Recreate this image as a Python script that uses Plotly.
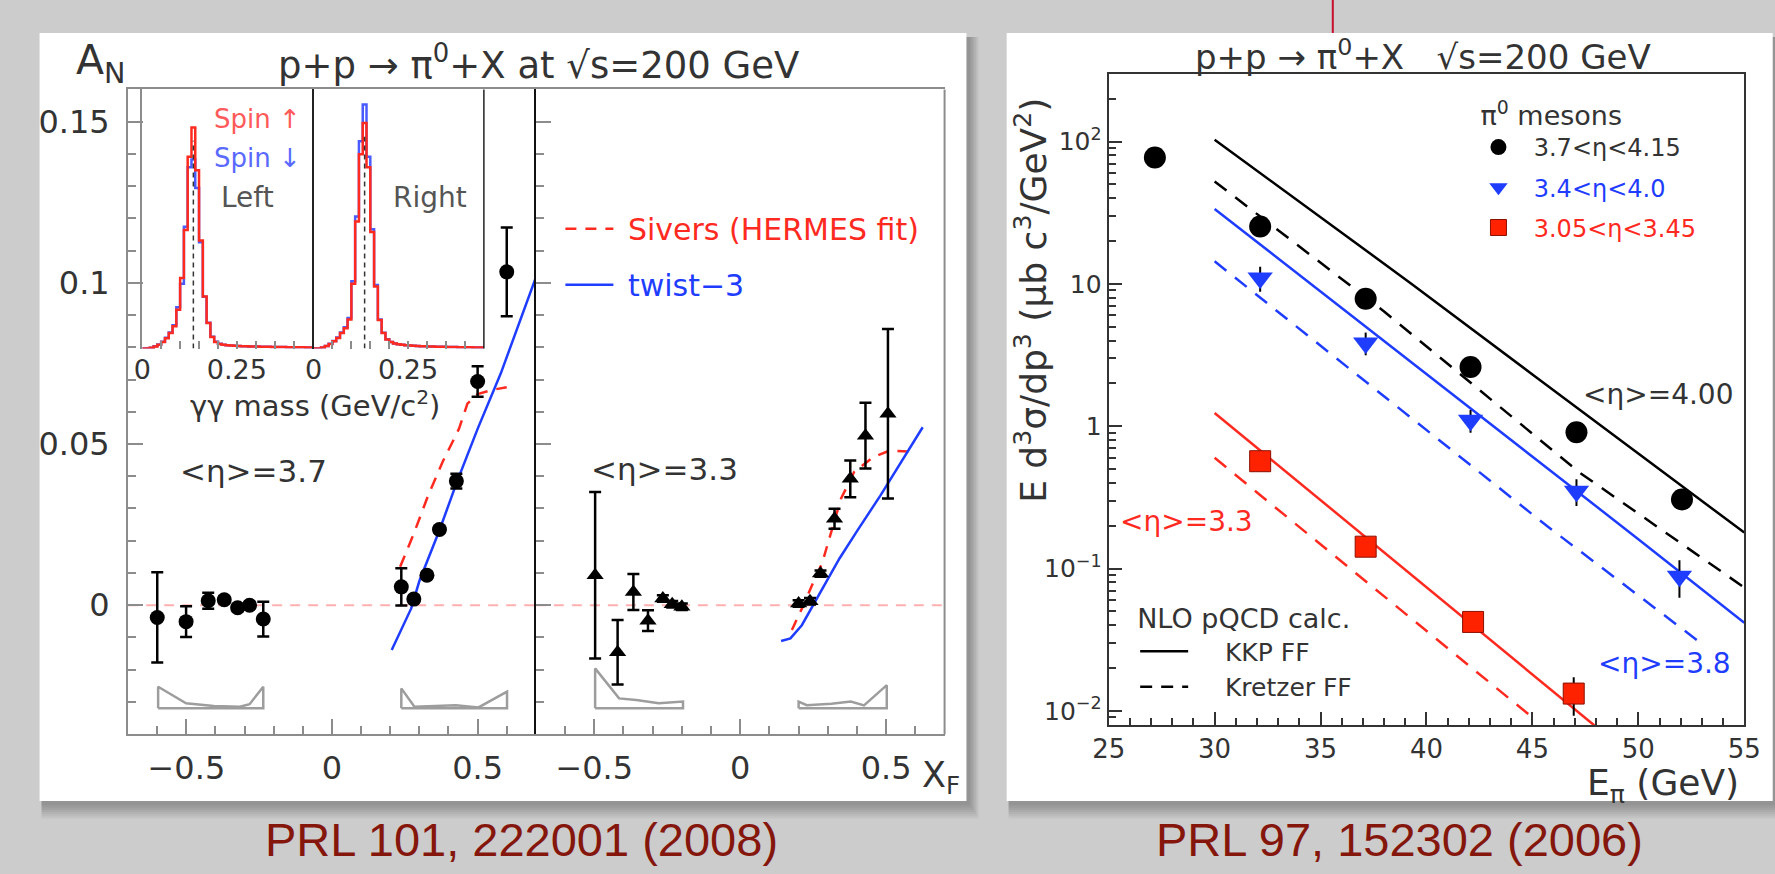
import plotly.graph_objects as go

W, H = 1775, 874
FONT = "DejaVu Sans"
TXT = "#333333"
RED = "#ff2a1f"
BLUE = "#1f3dff"
FRAME = "#8c8c8c"
CAPTION = "#85160c"
NB = "\u00a0"

# ---------------- left figure: A_N vs x_F ----------------
# <eta> = 3.7 (circles)
an37_neg_xf = [-0.600, -0.501, -0.425, -0.370, -0.324, -0.283, -0.236]
an37_neg_an = [-0.0038, -0.0051, 0.0014, 0.0017, -0.0008, 0.0000, -0.0043]
an37_neg_err = [0.0140, 0.0048, 0.0025, 0.0010, 0.0010, 0.0010, 0.0054]
an37_pos_xf = [0.238, 0.281, 0.326, 0.369, 0.427, 0.500, 0.600]
an37_pos_an = [0.0057, 0.0019, 0.0093, 0.0235, 0.0385, 0.0694, 0.1034]
an37_pos_err = [0.0058, 0.0010, 0.0010, 0.0010, 0.0023, 0.0047, 0.0138]
# <eta> = 3.3 (triangles)
an33_neg_xf = [-0.497, -0.420, -0.366, -0.316, -0.265, -0.233, -0.200]
an33_neg_an = [0.0093, -0.0146, 0.0041, -0.0048, 0.0021, 0.0003, -0.0005]
an33_neg_err = [0.0258, 0.0100, 0.0056, 0.0032, 0.0010, 0.0010, 0.0010]
an33_pos_xf = [0.200, 0.239, 0.275, 0.323, 0.377, 0.429, 0.506]
an33_pos_an = [0.0005, 0.0012, 0.0098, 0.0268, 0.0392, 0.0526, 0.0594]
an33_pos_err = [0.0010, 0.0010, 0.0010, 0.0031, 0.0057, 0.0102, 0.0263]

# theory curves
sivers37_xf = [0.234, 0.28, 0.33, 0.38, 0.436, 0.465, 0.50, 0.55, 0.60]
sivers37_an = [0.0119, 0.022, 0.034, 0.0445, 0.0547, 0.0625, 0.0655, 0.0668, 0.0676]
twist37_xf = [0.205, 0.24, 0.272, 0.30, 0.33, 0.37, 0.43, 0.50, 0.58, 0.70]
twist37_an = [-0.0139, -0.007, -0.001, 0.0075, 0.0145, 0.0235, 0.0385, 0.0547, 0.072, 0.1017]
sivers33_xf = [0.177, 0.2165, 0.256, 0.28, 0.345, 0.39, 0.457, 0.513, 0.603]
sivers33_an = [-0.0077, 0.0, 0.0083, 0.0129, 0.033, 0.0413, 0.046, 0.048, 0.0475]
twist33_xf = [0.140, 0.172, 0.211, 0.256, 0.289, 0.34, 0.40, 0.48, 0.625]
twist33_an = [-0.0111, -0.0103, -0.0062, 0.0011, 0.0062, 0.0145, 0.023, 0.034, 0.0552]

# systematic-uncertainty bands (top edge), drawn above a common baseline
BAND_BASE = -0.032
band37_neg_xf = [-0.597, -0.501, -0.406, -0.316, -0.283, -0.236]
band37_neg_an = [-0.0253, -0.0304, -0.0313, -0.0315, -0.0307, -0.0253]
band37_pos_xf = [0.238, 0.283, 0.425, 0.503, 0.601]
band37_pos_an = [-0.0258, -0.0315, -0.0310, -0.0317, -0.0268]
band33_neg_xf = [-0.497, -0.415, -0.356, -0.279, -0.196]
band33_neg_an = [-0.0196, -0.0289, -0.0294, -0.0304, -0.0299]
band33_pos_xf = [0.200, 0.228, 0.312, 0.379, 0.424, 0.502]
band33_pos_an = [-0.0299, -0.0310, -0.0306, -0.0299, -0.0311, -0.0248]

# inset: gamma-gamma invariant mass histograms (bins of 0.01 GeV, relative counts)
MASS_BIN = 0.01
PI0_MASS = 0.135
hist_left_up = [0, 0, 0.003, 0.008, 0.015, 0.025, 0.040, 0.060, 0.086, 0.150,
                0.272, 0.458, 0.740, 0.853, 0.688, 0.417, 0.201, 0.099, 0.045, 0.025,
                0.018, 0.015, 0.013, 0.012, 0.011, 0.010, 0.009, 0.009, 0.008, 0.008,
                0.008, 0.007, 0.007, 0.007, 0.006, 0.006, 0.006, 0.006, 0.005, 0.005,
                0.005, 0.005, 0.005, 0.004, 0.004]
hist_left_down = [0, 0, 0.003, 0.009, 0.016, 0.026, 0.042, 0.062, 0.090, 0.160,
                  0.250, 0.470, 0.700, 0.730, 0.620, 0.410, 0.200, 0.100, 0.046, 0.026,
                  0.019, 0.015, 0.013, 0.012, 0.011, 0.010, 0.009, 0.009, 0.008, 0.008,
                  0.008, 0.007, 0.007, 0.007, 0.006, 0.006, 0.006, 0.006, 0.005, 0.005,
                  0.005, 0.005, 0.005, 0.004, 0.004]
hist_right_up = [0, 0, 0.004, 0.010, 0.018, 0.028, 0.041, 0.060, 0.079, 0.112,
                 0.250, 0.490, 0.750, 0.870, 0.700, 0.450, 0.240, 0.110, 0.060, 0.035,
                 0.025, 0.020, 0.017, 0.015, 0.013, 0.012, 0.011, 0.010, 0.009, 0.009,
                 0.008, 0.008, 0.007, 0.007, 0.007, 0.006, 0.006, 0.006, 0.005, 0.005,
                 0.005, 0.005, 0.004, 0.004, 0.004]
hist_right_down = [0, 0, 0.004, 0.010, 0.019, 0.029, 0.043, 0.062, 0.082, 0.118,
                   0.260, 0.510, 0.800, 0.942, 0.740, 0.460, 0.245, 0.112, 0.061, 0.036,
                   0.025, 0.020, 0.017, 0.015, 0.013, 0.012, 0.011, 0.010, 0.009, 0.009,
                   0.008, 0.008, 0.007, 0.007, 0.007, 0.006, 0.006, 0.006, 0.005, 0.005,
                   0.005, 0.005, 0.004, 0.004, 0.004]

# ---------------- right figure: cross sections ----------------
e_eta40 = [27.18, 32.15, 37.13, 42.08, 47.08, 52.06]
xs_eta40 = [77.3, 25.3, 7.87, 2.61, 0.908, 0.306]
e_eta38 = [32.15, 37.13, 42.08, 47.08, 51.94]
xs_eta38 = [11.0, 3.85, 1.10, 0.35, 0.0885]
xs_eta38_err = [2.2, 0.7, 0.2, 0.075, 0.026]
e_eta33 = [32.15, 37.13, 42.2, 46.95]
xs_eta33 = [0.568, 0.1425, 0.0422, 0.01324]
xs_eta33_err = [0.03, 0.008, 0.002, 0.004]

kkp40_e = [30.0, 35.0, 39.3, 45.0, 50.0, 55.0]
kkp40_xs = [103.0, 29.4, 10.0, 2.31, 0.64, 0.179]
kre40_e = [30.0, 38.0, 47.24, 54.9]
kre40_xs = [52.4, 6.4, 0.471, 0.0754]
kkp38_e = [30.0, 40.0, 45.69, 50.0, 55.0]
kkp38_xs = [33.6, 2.33, 0.51, 0.161, 0.0417]
kre38_e = [30.0, 40.0, 45.69, 52.95]
kre38_xs = [14.4, 0.94, 0.199, 0.030]
kkp33_e = [30.0, 40.0, 47.93]
kkp33_xs = [1.24, 0.0743, 0.0079]
kre33_e = [30.0, 37.5, 45.0]
kre33_xs = [0.60, 0.073, 0.009]

an_ticks = [0, 0.05, 0.1, 0.15]
an_ticktext = ["0", "0.05", "0.1", "0.15"]
xf_ticks = [-0.5, 0, 0.5]
xf_ticktext = ["−0.5", "0", "0.5"]
mass_ticks = [0, 0.25]
mass_ticktext = ["0", "0.25"]
e_ticks = [25, 30, 35, 40, 45, 50, 55]
xs_ticks = [0.01, 0.1, 1, 10, 100]
xs_ticktext = ["10<sup>−2</sup>", "10<sup>−1</sup>", "1", "10", "10<sup>2</sup>"]


def px(v):
    return v / W


def py(v):
    return 1 - v / H


fig = go.Figure()


def add_points(xf, an, err, symbol, xa, ya):
    fig.add_trace(go.Scatter(
        x=xf, y=an, mode="markers", xaxis=xa, yaxis=ya,
        marker=dict(symbol=symbol, size=15, color="black"),
        error_y=dict(type="data", array=err, color="black", thickness=2.5, width=6),
        showlegend=False, hoverinfo="skip"))


def add_band(xs, ys, xa, ya):
    bx = [xs[0]] + list(xs) + [xs[-1], xs[0]]
    by = [BAND_BASE] + list(ys) + [BAND_BASE, BAND_BASE]
    fig.add_trace(go.Scatter(x=bx, y=by, mode="lines", xaxis=xa, yaxis=ya,
                             line=dict(color="#9d9d9d", width=2.5),
                             showlegend=False, hoverinfo="skip"))


def add_hist(vals, color, xa, ya):
    edges = [i * MASS_BIN for i in range(len(vals) + 1)]
    fig.add_trace(go.Scatter(x=edges, y=list(vals) + [vals[-1]], mode="lines", xaxis=xa, yaxis=ya,
                             line=dict(color=color, width=2.5, shape="hv"),
                             showlegend=False, hoverinfo="skip"))


# bands
add_band(band37_neg_xf, band37_neg_an, "x", "y")
add_band(band37_pos_xf, band37_pos_an, "x", "y")
add_band(band33_neg_xf, band33_neg_an, "x2", "y2")
add_band(band33_pos_xf, band33_pos_an, "x2", "y2")

# theory curves
fig.add_trace(go.Scatter(x=sivers37_xf, y=sivers37_an, mode="lines", xaxis="x", yaxis="y",
                         line=dict(color=RED, width=2.5, dash="12px,9px"), showlegend=False, hoverinfo="skip"))
fig.add_trace(go.Scatter(x=twist37_xf, y=twist37_an, mode="lines", xaxis="x", yaxis="y",
                         line=dict(color=BLUE, width=2.5), showlegend=False, hoverinfo="skip"))
fig.add_trace(go.Scatter(x=sivers33_xf, y=sivers33_an, mode="lines", xaxis="x2", yaxis="y2",
                         line=dict(color=RED, width=2.5, dash="11px,9px"),
                         name=NB + '<span style="color:#ff2a1f">Sivers (HERMES fit)</span>',
                         legend="legend", legendgroup="a1", showlegend=True, hoverinfo="skip"))
fig.add_trace(go.Scatter(x=twist33_xf, y=twist33_an, mode="lines", xaxis="x2", yaxis="y2",
                         line=dict(color=BLUE, width=2.5),
                         name=NB + '<span style="color:#1f3dff">twist−3</span>',
                         legend="legend", legendgroup="a2", showlegend=True, hoverinfo="skip"))

# data points
add_points(an37_neg_xf, an37_neg_an, an37_neg_err, "circle", "x", "y")
add_points(an37_pos_xf, an37_pos_an, an37_pos_err, "circle", "x", "y")
add_points(an33_neg_xf, an33_neg_an, an33_neg_err, "triangle-up", "x2", "y2")
add_points(an33_pos_xf, an33_pos_an, an33_pos_err, "triangle-up", "x2", "y2")

# inset histograms
add_hist(hist_left_down, "#4a5cff", "x3", "y3")
add_hist(hist_left_up, "#ff2a1f", "x3", "y3")
add_hist(hist_right_down, "#4a5cff", "x4", "y4")
add_hist(hist_right_up, "#ff2a1f", "x4", "y4")

# right figure theory lines
for e, v, col, dash in [(kkp40_e, kkp40_xs, "black", "solid"), (kre40_e, kre40_xs, "black", "15px,11px"),
                        (kkp38_e, kkp38_xs, BLUE, "solid"), (kre38_e, kre38_xs, BLUE, "15px,11px"),
                        (kkp33_e, kkp33_xs, RED, "solid"), (kre33_e, kre33_xs, RED, "15px,11px")]:
    fig.add_trace(go.Scatter(x=e, y=v, mode="lines", xaxis="x5", yaxis="y5",
                             line=dict(color=col, width=2.5, dash=dash),
                             showlegend=False, hoverinfo="skip"))

# legend keys for NLO calc
fig.add_trace(go.Scatter(x=[None], y=[None], mode="lines", xaxis="x5", yaxis="y5",
                         line=dict(color="black", width=2.5), name=NB * 4 + "KKP FF",
                         legend="legend3"))
fig.add_trace(go.Scatter(x=[None], y=[None], mode="lines", xaxis="x5", yaxis="y5",
                         line=dict(color="black", width=2.5, dash="12px,9px"), name=NB * 4 + "Kretzer FF",
                         legend="legend3"))

# right figure data
fig.add_trace(go.Scatter(x=e_eta40, y=xs_eta40, mode="markers", xaxis="x5", yaxis="y5",
                         marker=dict(symbol="circle", size=22, color="black"),
                         name=NB * 2 + "3.7&lt;η&lt;4.15", legend="legend2", legendgroup="b1", hoverinfo="skip"))
fig.add_trace(go.Scatter(x=e_eta38, y=xs_eta38, mode="markers", xaxis="x5", yaxis="y5",
                         marker=dict(symbol="triangle-down", size=22, color=BLUE),
                         error_y=dict(type="data", array=xs_eta38_err, color="black", thickness=2, width=0),
                         name=NB * 2 + '<span style="color:#1f3dff">3.4&lt;η&lt;4.0</span>',
                         legend="legend2", legendgroup="b2", hoverinfo="skip"))
fig.add_trace(go.Scatter(x=e_eta33, y=xs_eta33, mode="markers", xaxis="x5", yaxis="y5",
                         marker=dict(symbol="square", size=21, color="#ff2200",
                                     line=dict(color="#8a1000", width=1)),
                         error_y=dict(type="data", array=xs_eta33_err, color="black", thickness=2, width=0),
                         name=NB * 2 + '<span style="color:#ff2a1f">3.05&lt;η&lt;3.45</span>',
                         legend="legend2", legendgroup="b3", hoverinfo="skip"))

# ---------------- layout ----------------
L_X0, L_DIV, L_X1 = 113.3, 529.0, 945.7
L_YT, L_YB = 89.5, 735.0
IN_X0, IN_MID, IN_X1, IN_YB = 127.7, 302.3, 476.0, 349.0
R_X0, R_X1, R_YT, R_YB = 1113.0, 1761.0, 74.0, 726.0

tickfont_l = dict(family=FONT, size=32, color=TXT)


def xf_axis(domain, anchor):
    return dict(domain=domain, anchor=anchor, range=[-0.7, 0.7], showgrid=False, zeroline=False,
                showline=True, mirror=True, linecolor=FRAME, linewidth=2,
                ticks="inside", tickvals=xf_ticks, ticktext=xf_ticktext,
                ticklen=15, tickwidth=1.5, tickcolor=FRAME,
                minor=dict(ticks="inside", dtick=0.1, tick0=0, ticklen=8, tickwidth=1.5, tickcolor=FRAME),
                tickfont=tickfont_l, ticklabelstandoff=4, ticklabeloverflow="allow")


def an_axis(domain, anchor, labels, linecolor):
    return dict(domain=domain, anchor=anchor, range=[-0.04, 0.16], showgrid=False, zeroline=False,
                showline=True, linecolor=linecolor, linewidth=2,
                ticks="inside", tickvals=an_ticks, ticktext=an_ticktext,
                ticklen=15, tickwidth=1.5, tickcolor=FRAME,
                minor=dict(ticks="inside", dtick=0.01, tick0=0, ticklen=8, tickwidth=1.5, tickcolor=FRAME),
                showticklabels=labels, tickfont=tickfont_l, ticklabelstandoff=10,
                ticklabeloverflow="allow")


def mass_axis(domain, anchor, width_gev):
    return dict(domain=domain, anchor=anchor, range=[0, width_gev], showgrid=False, zeroline=False,
                showline=False, ticks="inside", tickvals=mass_ticks, ticktext=mass_ticktext,
                ticklen=8, tickwidth=1.5, tickcolor=FRAME,
                minor=dict(ticks="inside", dtick=0.05, tick0=0, ticklen=8, tickwidth=1.5, tickcolor=FRAME),
                tickfont=dict(family=FONT, size=27, color=TXT), ticklabelstandoff=2,
                ticklabeloverflow="allow")


def count_axis(domain, anchor, linecolor):
    return dict(domain=domain, anchor=anchor, range=[0, 1], showgrid=False, zeroline=False,
                showline=True, linecolor=linecolor, linewidth=1.5, ticks="", showticklabels=False)


minor_log = [m * 10 ** d for d in range(-3, 3) for m in range(2, 10)]
minor_log = [v for v in minor_log if 0.0079 < v < 298]

y_dom = [py(L_YB), py(L_YT)]
in_ydom = [py(IN_YB), py(L_YT)]

shapes = []
# card shadows and cards
for (cx0, cy0, cx1, cy1) in [(23, 33, 968, 802), (1009, 33, 1790, 802)]:
    for k in range(1, 8):
        shapes.append(dict(type="rect", xref="paper", yref="paper", layer="below",
                           x0=px(cx0 + 2), x1=px(cx1 + 1.5 * k + 2), y0=py(cy1 + 2.2 * k + 2), y1=py(cy0 + 4),
                           line=dict(width=0), fillcolor="rgba(0,0,0,0.045)"))
    shapes.append(dict(type="rect", xref="paper", yref="paper", layer="below",
                       x0=px(cx0), x1=px(cx1), y0=py(cy1), y1=py(cy0),
                       line=dict(width=0), fillcolor="white"))
# thin red marker line at top
shapes.append(dict(type="line", xref="paper", yref="paper", x0=px(1341.5), x1=px(1341.5),
                   y0=py(0), y1=py(33), line=dict(color="#c8102e", width=2)))
# zero reference lines
for xr, yr in [("x domain", "y"), ("x2 domain", "y2")]:
    shapes.append(dict(type="line", xref=xr, yref=yr, x0=0, x1=1, y0=0, y1=0, layer="below",
                       line=dict(color="#ffb0b0", width=2, dash="10px,8px")))
# right edge of left figure frame, right edge of inset
shapes.append(dict(type="line", xref="x2 domain", yref="y2 domain", x0=1, x1=1, y0=0, y1=1,
                   line=dict(color=FRAME, width=2)))
shapes.append(dict(type="line", xref="x4 domain", yref="y4 domain", x0=1, x1=1, y0=0, y1=1,
                   line=dict(color="#222222", width=1.5)))
# pi0 mass markers in insets
for xr, yr, hv in [("x3", "y3", hist_left_up), ("x4", "y4", hist_right_up)]:
    shapes.append(dict(type="line", xref=xr, yref=yr, x0=PI0_MASS, x1=PI0_MASS, y0=0, y1=0.94 * max(hv),
                       line=dict(color="#333333", width=1.5, dash="5px,4px")))

ann = []


def text(x, y, s, size, color=TXT, xanchor="center", yanchor="middle", angle=0, family=FONT):
    ann.append(dict(x=px(x), y=py(y), xref="paper", yref="paper", text=s, showarrow=False,
                    xanchor=xanchor, yanchor=yanchor, textangle=angle,
                    font=dict(family=family, size=size, color=color)))


text(58, 63, "A<sub>N</sub>", 41, xanchor="left")
text(532, 63, "p+p → π<sup>0</sup>+X at √s=200 GeV", 37)
text(199, 119, "Spin ↑", 26, color="#ff5a5a", xanchor="left")
text(199, 158, "Spin ↓", 26, color="#5a6aff", xanchor="left")
text(206, 198, "Left", 28, color="#555555", xanchor="left")
text(381, 198, "Right", 28, color="#555555", xanchor="left")
text(304, 404, "γγ mass (GeV/c<sup>2</sup>)", 29)
text(164, 472, "&lt;η&gt;=3.7", 31, xanchor="left")
text(583, 470, "&lt;η&gt;=3.3", 31, xanchor="left")
text(921, 778, "X<sub>F</sub>", 35, xanchor="left")

text(1433, 55, "p+p → π<sup>0</sup>+X   √s=200 GeV", 34)
text(1033, 301, "E d<sup>3</sup>σ/dp<sup>3</sup> (μb c<sup>3</sup>/GeV<sup>2</sup>)", 36, angle=-90)
text(1758, 786, "E<sub>π</sub> (GeV)", 36, xanchor="right")
text(1595, 395, "&lt;η&gt;=4.00", 28, xanchor="left")
text(1122, 522, "&lt;η&gt;=3.3", 28, color=RED, xanchor="left")
text(1750, 664, "&lt;η&gt;=3.8", 28, color=BLUE, xanchor="right")

text(514, 840, "PRL 101, 222001 (2008)", 47, color=CAPTION, family="Liberation Sans, Arial")
text(1410, 840, "PRL 97, 152302 (2006)", 47, color=CAPTION, family="Liberation Sans, Arial")

leg_common = dict(bgcolor="rgba(0,0,0,0)", borderwidth=0, xanchor="left", yanchor="top")

fig.update_layout(
    width=W, height=H, margin=dict(l=0, r=0, t=0, b=0),
    paper_bgcolor="#cccccc", plot_bgcolor="rgba(0,0,0,0)",
    font=dict(family=FONT, color=TXT),
    xaxis=xf_axis([px(L_X0), px(L_DIV)], "y"),
    yaxis=an_axis(y_dom, "x", True, FRAME),
    xaxis2=xf_axis([px(L_DIV), px(L_X1)], "y2"),
    yaxis2=an_axis(y_dom, "x2", False, "#111111"),
    xaxis3=mass_axis([px(IN_X0), px(IN_MID)], "y3", (IN_MID - IN_X0) / 386.0),
    yaxis3=count_axis(in_ydom, "x3", FRAME),
    xaxis4=mass_axis([px(IN_MID), px(IN_X1)], "y4", (IN_X1 - IN_MID) / 386.0),
    yaxis4=count_axis(in_ydom, "x4", "#222222"),
    xaxis5=dict(domain=[px(R_X0), px(R_X1)], anchor="y5", range=[25, 55], showgrid=False, zeroline=False,
                showline=True, mirror=True, linecolor="#333333", linewidth=2,
                ticks="inside", tickvals=e_ticks, ticklen=13, tickwidth=1.5, tickcolor="#333333",
                minor=dict(ticks="inside", dtick=1, tick0=25, ticklen=7, tickwidth=1.5, tickcolor="#333333"),
                tickfont=dict(family=FONT, size=26, color=TXT), ticklabeloverflow="allow"),
    yaxis5=dict(domain=[py(R_YB), py(R_YT)], anchor="x5", type="log", range=[-2.1, 2.475],
                showgrid=False, zeroline=False, showline=True, mirror=True, linecolor="#333333", linewidth=2,
                ticks="inside", tickvals=xs_ticks, ticktext=xs_ticktext, ticklen=13, tickwidth=1.5,
                tickcolor="#333333",
                minor=dict(ticks="inside", tickmode="array", tickvals=minor_log, ticklen=7, tickwidth=1.5,
                           tickcolor="#333333"),
                tickfont=dict(family=FONT, size=25, color=TXT), ticklabeloverflow="allow"),
    legend=dict(x=px(554), y=py(203), font=dict(family=FONT, size=30), tracegroupgap=14,
                itemwidth=48, traceorder="grouped", **leg_common),
    legend2=dict(x=px(1490), y=py(90), font=dict(family=FONT, size=24, color=TXT), tracegroupgap=6,
                 title=dict(text="π<sup>0</sup> mesons", font=dict(family=FONT, size=27, color=TXT)),
                 itemwidth=30, traceorder="grouped", **leg_common),
    legend3=dict(x=px(1140), y=py(594), font=dict(family=FONT, size=25, color=TXT),
                 title=dict(text="NLO pQCD calc.", font=dict(family=FONT, size=27, color=TXT)),
                 itemwidth=48, traceorder="normal", **leg_common),
    shapes=shapes, annotations=ann,
)

fig.write_html("out.html")
